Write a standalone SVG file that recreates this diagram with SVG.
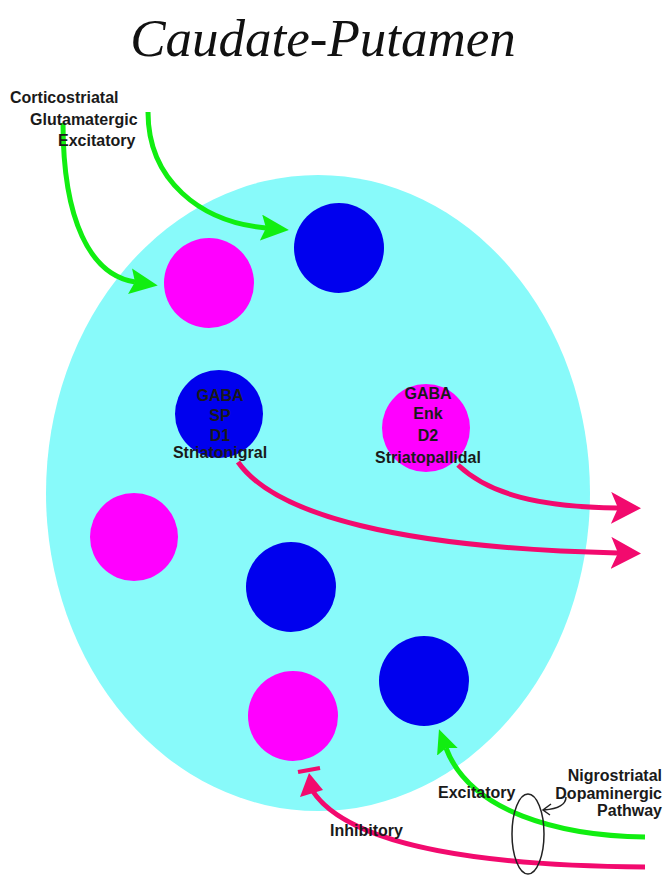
<svg xmlns="http://www.w3.org/2000/svg" width="666" height="875" viewBox="0 0 666 875">
<style>
.lbl{font-family:"Liberation Sans",Arial,sans-serif;font-weight:bold;font-size:16px;fill:#1a1a1a}
.mid{text-anchor:middle}
.end{text-anchor:end}
.title{font-family:"Liberation Serif","Times New Roman",serif;font-style:italic;font-size:53px;fill:#111;text-anchor:middle}
.mag{fill:#ff00ff}
.blu{fill:#0000ee}
.g{fill:none;stroke:#11ee11;stroke-width:5}
.r{fill:none;stroke:#f20a6e;stroke-width:5}
</style>
<defs>
<marker id="ag" viewBox="0 0 28 26" refX="5" refY="13" markerWidth="28" markerHeight="26" markerUnits="userSpaceOnUse" orient="auto"><path d="M0,0 L28,13 L0,26 L5,13 z" fill="#11ee11"/></marker>
<marker id="ag2" viewBox="0 0 24 22" refX="4" refY="11" markerWidth="24" markerHeight="22" markerUnits="userSpaceOnUse" orient="auto"><path d="M0,0 L24,11 L0,22 L4,11 z" fill="#11ee11"/></marker>
<marker id="ar" viewBox="0 0 30 32" refX="7" refY="16" markerWidth="30" markerHeight="32" markerUnits="userSpaceOnUse" orient="auto"><path d="M0,0 L30,16 L0,32 L7,16 z" fill="#f20a6e"/></marker>
</defs>
<rect width="666" height="875" fill="#fff"/>
<text class="title" x="323" y="56">Caudate-Putamen</text>
<g id="striatum"><ellipse cx="318" cy="493" rx="272" ry="318" fill="#88fafa"/></g>
<g id="n1"><circle class="mag" cx="209" cy="283" r="45"/></g>
<g id="n2"><circle class="blu" cx="339" cy="248" r="45"/></g>
<g id="n3"><circle class="blu" cx="219" cy="414" r="44"/>
<text class="lbl mid" x="220" y="401">GABA</text><text class="lbl mid" x="220" y="421">SP</text><text class="lbl mid" x="220" y="441">D1</text><text class="lbl mid" x="220" y="458">Striatonigral</text></g>
<g id="n4"><circle class="mag" cx="426" cy="428" r="44"/>
<text class="lbl mid" x="428" y="399">GABA</text><text class="lbl mid" x="428" y="419">Enk</text><text class="lbl mid" x="428" y="441">D2</text><text class="lbl mid" x="428" y="463">Striatopallidal</text></g>
<g id="n5"><circle class="mag" cx="134" cy="537" r="44"/></g>
<g id="n6"><circle class="blu" cx="291" cy="587" r="45"/></g>
<g id="n7"><circle class="blu" cx="424" cy="681" r="45"/></g>
<g id="n8"><circle class="mag" cx="293" cy="716" r="45"/></g>
<g id="connectors">
<path class="g" d="M63,123 C63,220 90,275 135,282" marker-end="url(#ag)"/>
<path class="g" d="M148,112 C148,180 200,222 266,228" marker-end="url(#ag)"/>
<path class="r" d="M458,465 C490,495 540,507 618,508" marker-end="url(#ar)"/>
<path class="r" d="M238,462 C275,515 400,548 618,553" marker-end="url(#ar)"/>
<path class="g" d="M645,837 C560,836 470,812 446,748" marker-end="url(#ag2)"/>
<path class="r" d="M645,867 C500,866 350,850 312,790"/>
<path d="M300,797 L323,790 L309,773 z" fill="#f20a6e"/>
<path d="M298,772 L320,768" stroke="#f20a6e" stroke-width="4"/>
<ellipse cx="528" cy="834" rx="16" ry="40" fill="none" stroke="#222" stroke-width="1.5"/>
<path d="M566,797 C566,806 556,809 544,810 M551,804 L543,810 L550,815" fill="none" stroke="#222" stroke-width="1.5"/>
</g>
<g id="labels">
<text class="lbl" x="10" y="103">Corticostriatal</text>
<text class="lbl" x="30" y="125">Glutamatergic</text>
<text class="lbl" x="58" y="146">Excitatory</text>
<text class="lbl end" x="662" y="781">Nigrostriatal</text>
<text class="lbl end" x="662" y="799">Dopaminergic</text>
<text class="lbl end" x="662" y="816">Pathway</text>
<text class="lbl" x="438" y="798">Excitatory</text>
<text class="lbl" x="330" y="836">Inhibitory</text>
</g>
</svg>
